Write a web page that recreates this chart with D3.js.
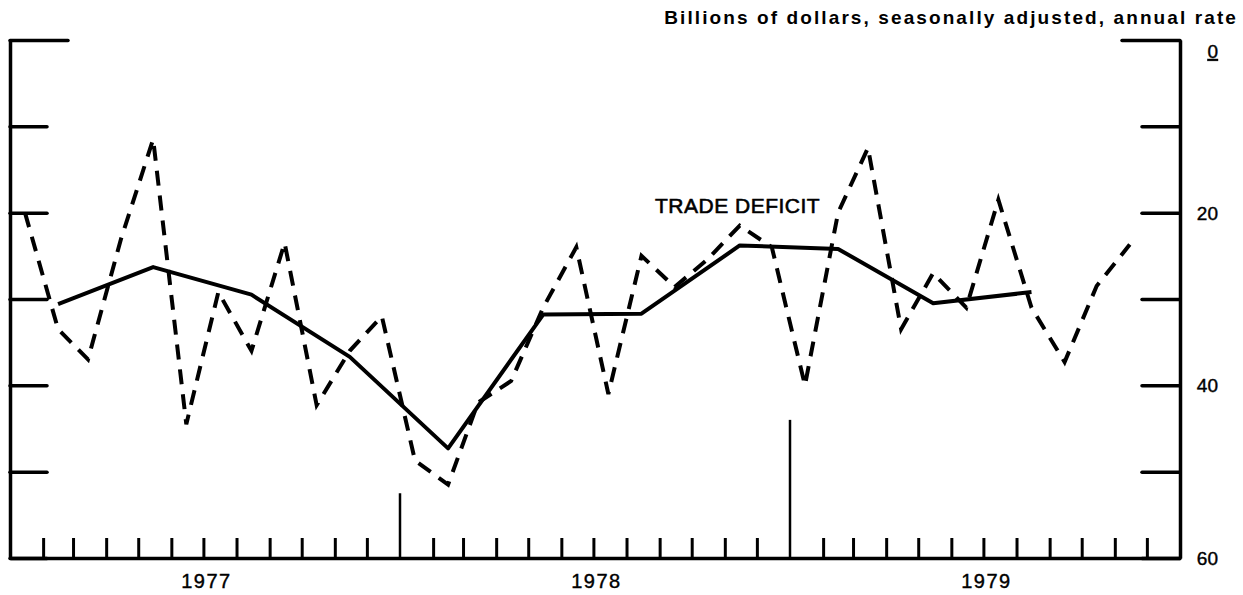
<!DOCTYPE html>
<html lang="en">
<head>
<meta charset="UTF-8">
<title>Trade Deficit 1977-1979</title>
<script src="https://d3js.org/d3.v7.min.js"></script>
<style>
  body { margin: 0; background: #fff; }
  svg { display: block; font-family: "Liberation Sans", Arial, sans-serif; }
  .frame path, .frame line { stroke: #000; stroke-width: 3.5; }
</style>
</head>
<body>
<div id="chart"></div>
<script>
// monthly trade deficit, Jan 1977 .. Nov 1979 (billions, SAAR)
var monthlyDeficit = [20, 33.5, 37, 23, 11.5, 44.5, 29.2, 36, 23.5, 42.3, 36, 32,
                      48.7, 51.5, 42, 39.5, 31, 24, 41, 25, 28.6, 25.5, 21.5, 24,
                      40, 20, 12.5, 33.5, 27, 31, 18.5, 31, 37.3, 28.5, 23.7];
// quarterly, Q1 1977 .. Q3 1979
var quarterlyDeficit = [30.6, 26.3, 29.5, 36.7, 47.3, 31.8, 31.7, 23.8, 24.2, 30.5, 29.2];
var years = [1977, 1978, 1979];
var yTicks = [0, 10, 20, 30, 40, 50, 60];
var yLabels = [0, 20, 40, 60];
// vertical marker lines at the turn of the year, and the value they reach up to
var markerYears = [1978, 1979];
var markerValues = [52.5, 44];

var width = 1243, height = 595;

var monthly = monthlyDeficit.map((v, i) => ({ date: new Date(1977, i, 15), value: v }));
var quarterly = quarterlyDeficit.map((v, i) => ({ date: new Date(1977, i * 3 + 1, 15), value: v }));

var svg = d3.select("#chart").append("svg")
    .attr("width", width)
    .attr("height", height);

var x = d3.scaleTime()
    .domain([new Date(1977, 0, 1), new Date(1980, 0, 1)])
    .range([10, 1180]);

var y = d3.scaleLinear()
    .domain([0, 60])
    .range([40, 558]);

// left axis (ticks pointing inward, no labels)
var left = svg.append("g")
    .attr("class", "frame")
    .attr("transform", "translate(10,0)")
    .call(d3.axisLeft(y).tickValues(yTicks).tickSize(-37).tickSizeOuter(0).tickFormat(""));

// right axis
var right = svg.append("g")
    .attr("class", "frame")
    .attr("transform", "translate(1180,0)")
    .call(d3.axisRight(y).tickValues(yTicks).tickSize(-38).tickSizeOuter(0).tickFormat(""));

// top ticks (0) are longer
left.selectAll(".tick").filter(d => d === 0).select("line").attr("x2", 58);
right.selectAll(".tick").filter(d => d === 0).select("line").attr("x2", -58);
left.selectAll(".tick line").attr("stroke-linecap", "round");
right.selectAll(".tick line").attr("stroke-linecap", "round");

// bottom axis with monthly ticks
var bottom = svg.append("g")
    .attr("class", "frame")
    .attr("transform", "translate(0,558)")
    .call(d3.axisBottom(x).ticks(d3.timeMonth.every(1)).tickSize(-20).tickSizeOuter(0).tickFormat(""));

bottom.selectAll(".tick")
    .filter(d => d.getMonth() === 0)
    .remove();
bottom.selectAll(".tick line").style("stroke-width", 3);

// year boundary marker lines
svg.selectAll(".marker")
    .data(markerYears)
    .enter().append("line")
    .attr("class", "marker")
    .attr("x1", d => x(new Date(d, 0, 1)))
    .attr("x2", d => x(new Date(d, 0, 1)))
    .attr("y1", y(60))
    .attr("y2", (d, i) => y(markerValues[i]))
    .attr("stroke", "#000")
    .attr("stroke-width", 2.5);

// year labels
svg.selectAll(".year")
    .data(years)
    .enter().append("text")
    .attr("class", "year")
    .attr("x", d => x(new Date(d, 6, 1)) + 3)
    .attr("y", 588)
    .attr("text-anchor", "middle")
    .style("font-size", "20px")
    .style("letter-spacing", "1.5px")
    .attr("stroke", "#000")
    .attr("stroke-width", 0.4)
    .text(d => d);

// right value labels
svg.selectAll(".ylab")
    .data(yLabels)
    .enter().append("text")
    .attr("class", "ylab")
    .attr("x", 1218)
    .attr("y", d => d === 0 ? y(d) + 18 : y(d) + 7)
    .attr("text-anchor", "end")
    .style("font-size", "19px")
    .style("text-decoration", d => d === 0 ? "underline" : null)
    .attr("stroke", "#000")
    .attr("stroke-width", 0.4)
    .text(d => d);

// lines
var line = d3.line()
    .x(d => x(d.date))
    .y(d => y(d.value));

svg.append("path")
    .datum(monthly)
    .attr("fill", "none")
    .attr("stroke", "#000")
    .attr("stroke-width", 4)
    .attr("stroke-dasharray", "15,10")
    .attr("d", line);

svg.append("path")
    .datum(quarterly)
    .attr("fill", "none")
    .attr("stroke", "#000")
    .attr("stroke-width", 4)
    .attr("stroke-linejoin", "round")
    .attr("d", line);

// labels
svg.append("text")
    .attr("x", 655)
    .attr("y", 213)
    .style("font-size", "21px")
    .style("letter-spacing", "0.5px")
    .attr("stroke", "#000")
    .attr("stroke-width", 0.6)
    .text("TRADE DEFICIT");

svg.append("text")
    .attr("x", 1238)
    .attr("y", 24)
    .attr("text-anchor", "end")
    .style("font-size", "19px")
    .style("font-weight", "bold")
    .style("letter-spacing", "2.1px")
    .text("Billions of dollars, seasonally adjusted, annual rate");
</script>
</body>
</html>
